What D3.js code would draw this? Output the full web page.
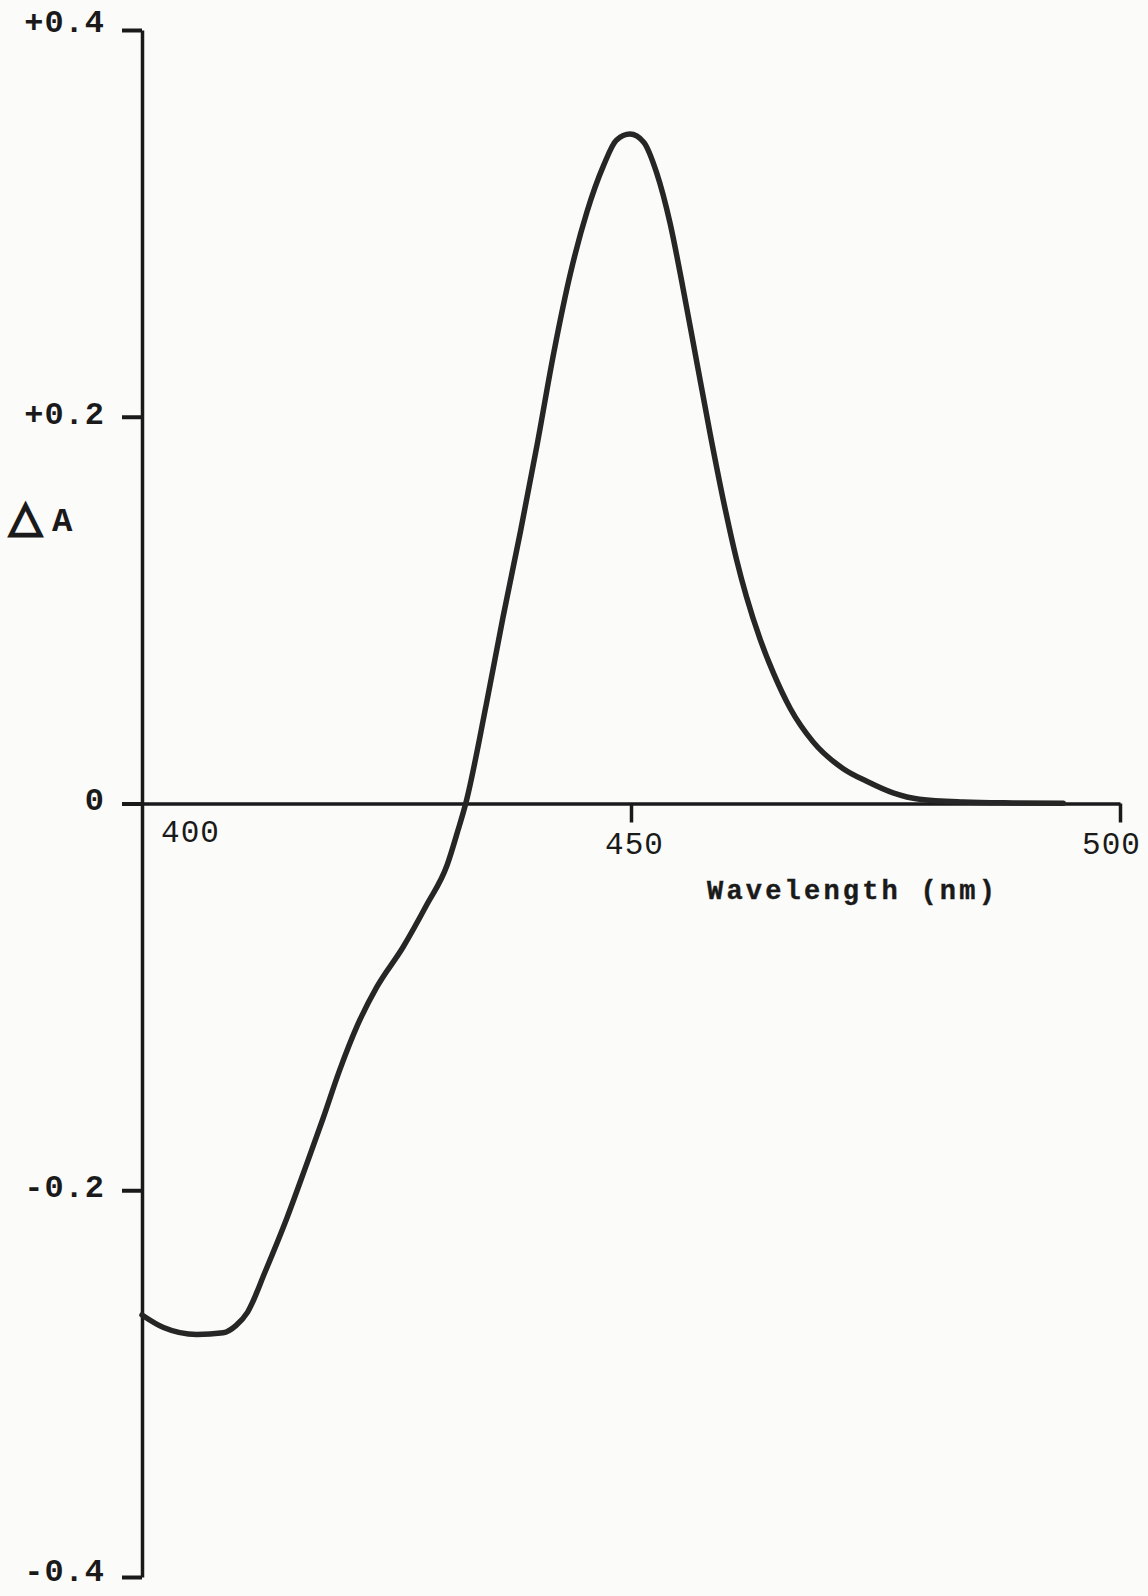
<!DOCTYPE html>
<html>
<head>
<meta charset="utf-8">
<script src="https://cdn.jsdelivr.net/npm/d3@7/dist/d3.min.js"></script>
<style>
  html, body { margin: 0; padding: 0; background: #fbfbf9; }
  svg { display: block; }
</style>
</head>
<body>
<svg id="chart" width="1148" height="1596"></svg>
<script>
// Difference spectrum: wavelength (nm) vs change in absorbance
const wavelength = [400.0, 402.2, 405.6, 408.3, 409.6, 410.8, 412.6, 414.8, 416.8, 418.5,
  420.2, 422.0, 424.0, 426.7, 429.1, 431.2, 432.3, 433.1, 435.2, 436.9,
  438.7, 440.4, 442.1, 443.8, 445.5, 447.2, 448.5, 449.9, 451.3, 452.6,
  454.0, 455.3, 456.7, 458.1, 459.6, 460.8, 461.8, 463.2, 464.6, 466.3,
  468.6, 471.7, 474.1, 476.8, 479.5, 484.0, 489.1, 494.2];
const deltaA = [-0.2645, -0.271, -0.2746, -0.2737, -0.2700, -0.2630, -0.2420, -0.2146, -0.1870, -0.1630,
  -0.1380, -0.1150, -0.0950, -0.0742, -0.0525, -0.0318, -0.0140, 0.0, 0.0512, 0.0960,
  0.1407, 0.1855, 0.2330, 0.2740, 0.3060, 0.3300, 0.3430, 0.3462, 0.3420, 0.3265,
  0.3000, 0.2670, 0.2290, 0.1910, 0.1530, 0.1260, 0.1070, 0.0850, 0.0670, 0.0490,
  0.0320, 0.0180, 0.0115, 0.0055, 0.0022, 0.0008, 0.0003, 0.0001];

const yTicks = [0.4, 0.2, 0, -0.2, -0.4];
const yTickLabels = ["+0.4", "+0.2", "0", "-0.2", "-0.4"];
const xTicks = [400, 450, 500];
const xTickLabels = ["400", "450", "500"];
const xTitle = "Wavelength (nm)";

const svg = d3.select("#chart");
const ink = "#1a1a1a";

const x = d3.scaleLinear().domain([400, 500]).range([142, 1120]);
const y = d3.scaleLinear().domain([-0.4, 0.4]).range([1577, 30]);

// Vertical axis at 400 nm with ticks pointing left
const yAxis = svg.append("g")
  .attr("transform", `translate(${x(400)},0)`)
  .call(d3.axisLeft(y)
    .tickValues(yTicks)
    .tickSize(20)
    .tickSizeOuter(0)
    .tickPadding(17)
    .tickFormat((d, i) => yTickLabels[i]));
yAxis.select(".domain").attr("stroke", ink).attr("stroke-width", 3.5);
yAxis.selectAll(".tick line").attr("stroke", ink).attr("stroke-width", 4);
yAxis.selectAll(".tick text")
  .attr("fill", ink)
  .attr("dy", d => d === 0.4 ? "0.05em" : (d === -0.4 ? "0.1em" : "0.2em"))
  .style("font-family", "'Liberation Mono', 'DejaVu Sans Mono', monospace")
  .style("font-weight", "bold")
  .style("font-size", "32px")
  .style("letter-spacing", "1px");

// Horizontal axis along zero
const xAxis = svg.append("g")
  .attr("transform", `translate(0,${y(0)})`)
  .call(d3.axisBottom(x)
    .tickValues(xTicks)
    .tickSize(19)
    .tickSizeOuter(0)
    .tickPadding(4)
    .tickFormat((d, i) => xTickLabels[i]));
xAxis.select(".domain").attr("stroke", ink).attr("stroke-width", 3.5);
xAxis.selectAll(".tick line").attr("stroke", ink).attr("stroke-width", 3.5)
  .attr("display", d => d === 400 ? "none" : null);
xAxis.selectAll(".tick text")
  .attr("fill", ink)
  .attr("dx", d => d === 400 ? 48 : (d === 500 ? -9 : 3))
  .attr("dy", d => d === 400 ? "0.5em" : "0.9em")
  .style("font-family", "'Liberation Mono', 'DejaVu Sans Mono', monospace")
  .style("font-size", "31px")
  .style("letter-spacing", "1px");

// Axis titles
svg.append("text")
  .attr("x", 707)
  .attr("y", 899)
  .attr("fill", ink)
  .attr("stroke", ink)
  .attr("stroke-width", 0.4)
  .style("font-family", "'Liberation Mono', 'DejaVu Sans Mono', monospace")
  .style("font-weight", "bold")
  .style("font-size", "27px")
  .style("letter-spacing", "3.2px")
  .text(xTitle);

const yTitle = svg.append("text")
  .attr("x", 9)
  .attr("y", 531)
  .attr("fill", ink);
yTitle.append("tspan")
  .attr("stroke", ink)
  .attr("stroke-width", 2.5)
  .style("font-family", "'DejaVu Sans', sans-serif")
  .style("font-size", "43px")
  .text("△");
yTitle.append("tspan")
  .attr("dx", 10)
  .style("font-family", "'Liberation Mono', monospace")
  .style("font-weight", "bold")
  .style("font-size", "34px")
  .text("A");

// Spectrum curve
const pts = wavelength.map((w, i) => [w, deltaA[i]]);
const line = d3.line()
  .x(d => x(d[0]))
  .y(d => y(d[1]))
  .curve(d3.curveMonotoneX);

svg.append("path")
  .datum(pts)
  .attr("d", line)
  .attr("fill", "none")
  .attr("stroke", "#262626")
  .attr("stroke-width", 5.5)
  .attr("stroke-linejoin", "round")
  .attr("stroke-linecap", "round");
</script>
</body>
</html>
